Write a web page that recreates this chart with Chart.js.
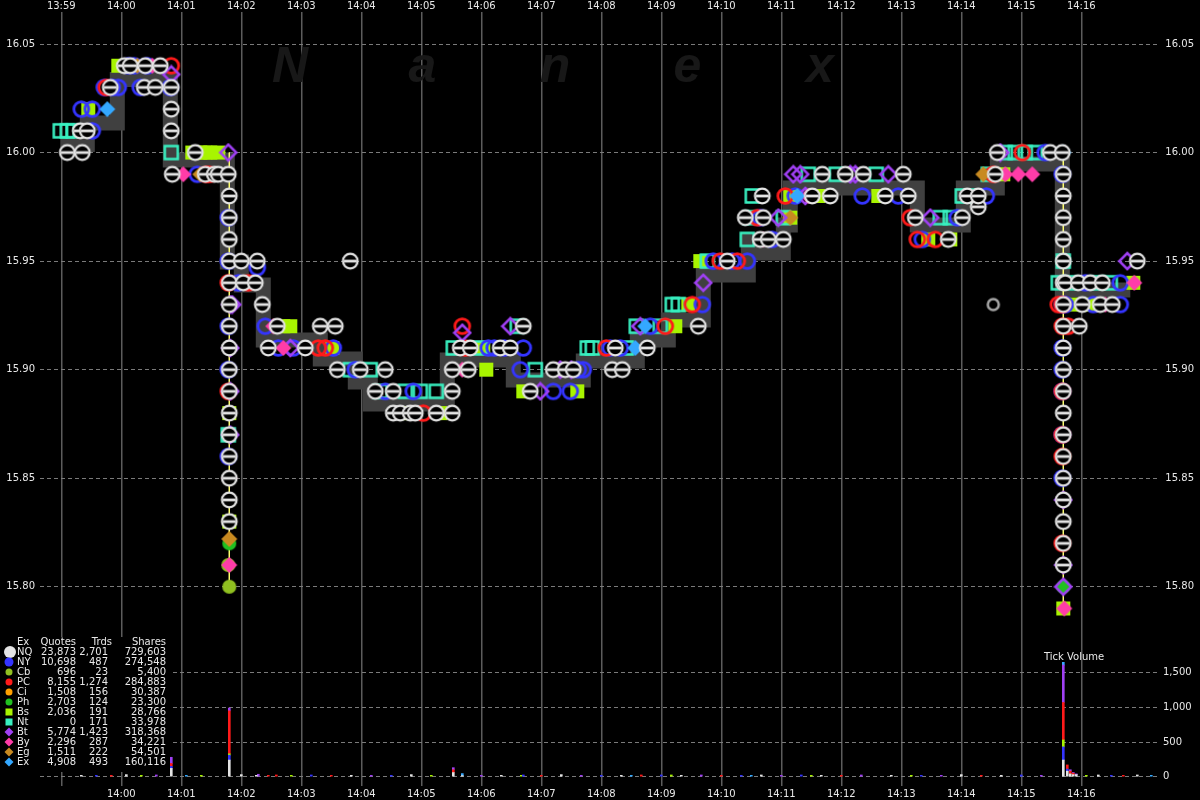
<!DOCTYPE html>
<html><head><meta charset="utf-8">
<script src="https://cdn.jsdelivr.net/npm/chart.js@4/dist/chart.umd.min.js"></script>
<style>html,body{margin:0;padding:0;background:#000;overflow:hidden}canvas{display:block}</style>
</head><body>
<canvas id="c" width="1200" height="800"></canvas>
<script>
// ---------------- DATA (time = seconds after 13:59:00, price in $) ----------------
const timeLabels = ['13:59','14:00','14:01','14:02','14:03','14:04','14:05','14:06','14:07','14:08','14:09','14:10','14:11','14:12','14:13','14:14','14:15','14:16'];
const priceTicks = [15.80, 15.85, 15.90, 15.95, 16.00, 16.05];
const volumeTicks = [0, 500, 1000, 1500];

// grey quote band (step)
const bandSec   = [-1, 26, 56, 109, 166, 180, 202, 259, 294, 309, 386, 452, 522, 576, 607, 642, 687, 702, 722, 729, 856, 902, 936, 1001, 1069];
const bandPrice = [16.0037, 16.0136, 16.0336, 15.9966, 15.9496, 15.9390, 15.9137, 15.9049, 15.8943, 15.8842, 15.9044, 15.8952, 15.9040, 15.9137, 15.9229, 15.9436, 15.9597, 15.9537, 15.9666, 15.9837, 15.9666, 15.9837, 15.9947, 15.9367, 15.9367];

// thin yellow trade-path segments at the two plunges (null price = gap)
const plungePath = [[168,16.00],[168,15.80],[585,null],[1002,16.00],[1002,15.79]];

// trades per exchange [sec, price]
const tradesNQ = [[6,16.00],[21,16.00],[19,16.01],[26,16.01],[49,16.03],[63,16.04],[69,16.04],[84,16.04],[99,16.04],[83,16.03],[94,16.03],[110,16.03],[110,16.02],[110,16.01],[134,16.00],[111,15.99],[144,15.99],[153,15.99],[157,15.99],[167,15.99],
[168,15.98],[168,15.97],[168,15.96],[168,15.95],[168,15.94],[168,15.93],[168,15.92],[168,15.91],[168,15.90],[168,15.89],[168,15.88],[168,15.87],[168,15.86],[168,15.85],[168,15.84],[168,15.83],
[180,15.95],[196,15.95],[182,15.94],[194,15.94],[201,15.93],[289,15.95],
[216,15.92],[259,15.92],[274,15.92],[207,15.91],[244,15.91],[276,15.90],[299,15.90],[324,15.90],[314,15.89],[332,15.89],[391,15.89],[332,15.88],[339,15.88],[349,15.88],[354,15.88],[375,15.88],[391,15.88],
[399,15.91],[409,15.91],[439,15.91],[449,15.91],[391,15.90],[407,15.90],[462,15.92],[492,15.90],[504,15.90],[469,15.89],
[512,15.90],[551,15.90],[561,15.90],[554,15.91],[586,15.91],[637,15.92],[666,15.95],[699,15.96],[707,15.96],[722,15.96],[684,15.97],[702,15.97],[701,15.98],[751,15.98],[769,15.98],[824,15.98],[847,15.98],[761,15.99],[784,15.99],[802,15.99],[842,15.99],
[854,15.97],[901,15.97],[887,15.96],[917,15.975],[906,15.98],[917,15.98],[934,15.99],[936,16.00],[989,16.00],[1001,16.00],
[1002,15.99],[1002,15.98],[1002,15.97],[1002,15.96],[1002,15.95],[1002,15.94],[1002,15.93],[1002,15.92],[1002,15.91],[1002,15.90],[1002,15.89],[1002,15.88],[1002,15.87],[1002,15.86],[1002,15.85],[1002,15.84],[1002,15.83],[1002,15.82],[1002,15.81],
[1004,15.94],[1017,15.94],[1029,15.94],[1041,15.94],[1021,15.93],[1039,15.93],[1051,15.93],[1018,15.92],[1076,15.95]];
const tradesNQoutlier = [[932,15.93]];
const tradesNY = [[31,16.01],[20,16.02],[31,16.02],[43,16.03],[51,16.03],[57,16.03],[67,16.04],[73,16.04],[86,16.04],[79,16.03],[109,16.03],[136,15.99],
[167,15.97],[167,15.95],[167,15.92],[167,15.90],[167,15.86],[177,15.94],[196,15.947],[204,15.92],[217,15.91],[232,15.91],[272,15.91],[294,15.90],[324,15.89],[352,15.89],
[427,15.91],[433,15.91],[443,15.91],[462,15.91],[459,15.90],[517,15.90],[492,15.89],[509,15.89],[522,15.90],[549,15.91],[559,15.91],[589,15.92],[641,15.93],
[652,15.95],[671,15.95],[686,15.95],[711,15.96],[699,15.97],[734,15.98],[801,15.98],[837,15.98],[861,15.96],[896,15.97],[925,15.98],[984,16.00],
[1001,15.99],[1001,15.93],[1001,15.91],[1001,15.90],[1001,15.89],[1001,15.87],[1001,15.85],[1004,15.93],[1024,15.94],[1032,15.93],[1059,15.94],[1059,15.93]];
const tradesPC = [[45,16.03],[110,16.04],[145,15.99],[148,15.99],[167,15.94],[167,15.89],[187,15.94],[257,15.91],[264,15.91],[362,15.88],[401,15.92],[404,15.91],
[545,15.91],[604,15.92],[631,15.93],[659,15.95],[676,15.95],[696,15.97],[724,15.98],[849,15.97],[856,15.96],[874,15.96],[932,15.99],[961,16.00],
[1001,15.93],[1001,15.92],[1001,15.89],[1001,15.87],[1001,15.86],[1001,15.82],[997,15.93],[1007,15.92]];
const tradesNt = [[-1,16.01],[6,16.01],[12,16.01],[110,16.00],[167,15.87],[289,15.90],[309,15.90],[319,15.89],[344,15.89],[359,15.89],[375,15.89],[392,15.91],[419,15.91],[456,15.92],[474,15.90],
[526,15.91],[531,15.91],[565,15.91],[575,15.92],[599,15.92],[611,15.93],[617,15.93],[646,15.95],[686,15.96],[689,15.97],[722,15.97],[691,15.98],[747,15.99],[775,15.99],[815,15.99],
[879,15.97],[889,15.97],[901,15.98],[912,15.98],[927,15.99],[944,16.00],[954,16.00],[964,16.00],[974,16.00],[1002,15.95],[997,15.94],[1009,15.94],[1036,15.94],[1049,15.94]];
const tradesBs = [[57,16.04],[27,16.02],[131,16.00],[139,16.00],[144,16.00],[149,16.00],[157,16.00],[168,15.88],[168,15.83],[222,15.92],[229,15.92],[271,15.91],[346,15.88],[379,15.88],
[422,15.91],[425,15.90],[495,15.90],[462,15.89],[516,15.89],[614,15.92],[627,15.93],[639,15.95],[729,15.97],[729,15.98],[757,15.98],[817,15.98],[867,15.96],[889,15.96],[942,15.99],
[1002,15.79],[1014,15.93],[1027,15.93],[1072,15.94]];
const tradesBt = [[110,16.036],[167,16.00],[171,15.93],[169,15.93],[169,15.91],[169,15.89],[169,15.87],[229,15.91],[401,15.917],[449,15.92],[499,15.90],[510,15.90],[479,15.89],
[579,15.92],[642,15.94],[717,15.97],[744,15.98],[732,15.99],[739,15.99],[789,15.99],[794,15.99],[827,15.99],[869,15.97],[939,16.00],[1002,15.84],[1002,15.81],[1002,15.80],[1066,15.95]];
const tradesBy = [[91,16.04],[122,15.99],[168,15.85],[168,15.81],[212,15.92],[222,15.91],[401,15.90],[702,15.96],[747,15.98],[944,15.99],[957,15.99],[971,15.99],[1003,15.79],[1044,15.93],[1073,15.94]];
const tradesEx = [[46,16.02],[179,15.94],[574,15.91],[584,15.92],[736,15.98],[1002,16.00],[1002,15.87]];
const tradesEg = [[76,16.04],[139,15.99],[168,15.83],[168,15.822],[729,15.97],[922,15.99],[1002,15.86]];
const tradesPh = [[168,15.82],[1002,15.89],[1002,15.80]];
const tradesCb = [[168,15.80],[167,15.81]];
const tradesCi = [[1001,15.86]];

// tick volume per exchange [sec, shares]
const volNQ = [[20,20],[65,30],[110,120],[168,240],[180,30],[195,20],[290,20],[350,30],[392,60],[401,15],[440,20],[500,30],[560,20],[620,20],[700,25],[760,20],[830,20],[900,30],[940,20],[1002,240],[1006,80],[1009,40],[1012,30],[1015,30],[1037,25],[1076,25]];
const volNY = [[35,20],[110,30],[168,70],[250,25],[330,20],[462,25],[540,20],[600,25],[680,20],[740,25],[860,20],[960,25],[1002,190],[1006,30],[1050,20]];
const volPC = [[50,20],[110,40],[168,620],[207,20],[215,25],[270,20],[392,40],[480,20],[580,25],[660,20],[780,20],[920,20],[1002,540],[1006,60],[1009,40],[1012,20],[1062,20]];
const volBt = [[95,25],[110,90],[168,40],[197,35],[310,20],[392,30],[420,20],[520,20],[640,25],[720,20],[800,25],[880,20],[980,20],[1002,540],[1009,20],[1012,10],[1015,10]];
const volBs = [[80,20],[140,20],[168,20],[230,20],[370,20],[460,20],[610,25],[750,20],[850,20],[1002,100],[1025,20]];
const volEx = [[125,20],[401,30],[570,20],[690,20],[1002,40],[1090,20]];

// exchange summary table
const exNames  = ['NQ','NY','Cb','PC','Ci','Ph','Bs','Nt','Bt','By','Eg','Ex'];
const exQuotes = [23873, 10698, 696, 8155, 1508, 2703, 2036, 0, 5774, 2296, 1511, 4908];
const exTrades = [2701, 487, 23, 1274, 156, 124, 191, 171, 1423, 287, 222, 493];
const exShares = [729603, 274548, 5400, 284883, 30387, 23300, 28766, 33978, 318368, 34221, 54501, 160116];

// ---------------- STYLE ----------------
const COL = {NQ:'#e4e4e4', NY:'#3434ff', Cb:'#90c020', PC:'#ff1a1a', Ci:'#ffa000', Ph:'#20c020', Bs:'#a8f400', Nt:'#38f0c0', Bt:'#a040f4', By:'#ff3ca8', Eg:'#c88a20', Ex:'#34a8ff'};
const TXT = '#e8e8e8';
const FAM = "'DejaVu Sans', sans-serif";
const FONT = {family:FAM, size:10};
const X_MIN = -21.3, X_MAX = 1096.7;
const Y_MIN = 16.05 - 742/2171, Y_MAX = 16.05 + 32/2171;
const V_PX = 104/1500;
const V_MIN = -9.3 / V_PX, V_MAX = 764.7 / V_PX;

function marker(kind, color) {
  const c = document.createElement('canvas');
  c.width = 20; c.height = 20;
  const g = c.getContext('2d'); const m = 10;
  g.strokeStyle = color; g.fillStyle = color; g.lineWidth = 2.5;
  if (kind === 'nq') {
    g.beginPath(); g.arc(m, m, 7.3, 0, Math.PI*2); g.fillStyle = '#000'; g.fill();
    g.lineWidth = 2.2; g.stroke();
    g.fillStyle = color; g.fillRect(m-6, m-1.4, 12, 2.8);
  } else if (kind === 'ring') {
    g.lineWidth = 2.8; g.beginPath(); g.arc(m, m, 7.4, 0, Math.PI*2); g.stroke();
  } else if (kind === 'smallring') {
    g.lineWidth = 2.5; g.beginPath(); g.arc(m, m, 5.5, 0, Math.PI*2); g.stroke();
  } else if (kind === 'sq') {
    g.strokeRect(m-6.5, m-6.5, 13, 13);
  } else if (kind === 'sqf') {
    g.fillRect(m-7, m-7, 14, 14);
  } else if (kind === 'dia' || kind === 'diaf') {
    g.beginPath(); g.moveTo(m, m-8); g.lineTo(m+8, m); g.lineTo(m, m+8); g.lineTo(m-8, m); g.closePath();
    if (kind === 'dia') g.stroke(); else g.fill();
  } else if (kind === 'dot') {
    g.beginPath(); g.arc(m, m, 7, 0, Math.PI*2); g.fill();
  }
  return c;
}

const pts = arr => arr.map(p => ({x: p[0], y: p[1]}));

function tradeSet(label, arr, kind, color, order) {
  return {type:'scatter', label, data: pts(arr), xAxisID:'x', yAxisID:'y', showLine:false,
    pointStyle: marker(kind, color), pointRadius: 8, pointHoverRadius: 8, order};
}
function volSet(label, arr, color) {
  return {type:'bar', label, data: pts(arr), xAxisID:'x', yAxisID:'yVol', backgroundColor: color,
    barThickness: 2, borderWidth: 0, order: 5};
}

const datasets = [
  tradeSet('NQ', tradesNQ, 'nq', COL.NQ, 0),
  tradeSet('NQo', tradesNQoutlier, 'smallring', '#a8a8a8', 0),
  tradeSet('Ex', tradesEx, 'diaf', COL.Ex, 1),
  tradeSet('By', tradesBy, 'diaf', COL.By, 1),
  tradeSet('Bt', tradesBt, 'dia', COL.Bt, 1),
  tradeSet('Eg', tradesEg, 'diaf', COL.Eg, 1),
  tradeSet('PC', tradesPC, 'ring', COL.PC, 1),
  tradeSet('NY', tradesNY, 'ring', COL.NY, 1),
  tradeSet('Nt', tradesNt, 'sq', COL.Nt, 1),
  tradeSet('Bs', tradesBs, 'sqf', COL.Bs, 1),
  tradeSet('Ph', tradesPh, 'dot', COL.Ph, 1),
  tradeSet('Cb', tradesCb, 'dot', COL.Cb, 1),
  tradeSet('Ci', tradesCi, 'dot', COL.Ci, 1),
  {type:'line', label:'path', data: pts(plungePath), xAxisID:'x', yAxisID:'y', borderColor:'#ffff70', borderWidth:1, pointRadius:0, spanGaps:false, order:15},
  {type:'line', label:'band', data: bandSec.map((s,i)=>({x:s, y:bandPrice[i]})), xAxisID:'x', yAxisID:'y',
    borderColor:'#404040', borderWidth:15, stepped:'before', pointRadius:0, borderCapStyle:'butt', borderJoinStyle:'miter', order:20},
  volSet('vNQ', volNQ, COL.NQ), volSet('vNY', volNY, COL.NY), volSet('vBs', volBs, COL.Bs),
  volSet('vPC', volPC, COL.PC), volSet('vBt', volBt, COL.Bt), volSet('vEx', volEx, COL.Ex)
];

const bgPlugin = {id:'bg', beforeDraw(ch){ const c = ch.ctx; c.save(); c.fillStyle='#000'; c.fillRect(0,0,ch.width,ch.height); c.restore(); }};
const watermark = {id:'wm', beforeDatasetsDraw(ch){
  const c = ch.ctx; c.save(); c.fillStyle = '#181818'; c.font = "italic bold 50px 'Liberation Sans', sans-serif";
  c.textAlign = 'center'; c.textBaseline = 'middle';
  const letters = ['N','a','n','e','x'];
  letters.forEach((l,i) => c.fillText(l, 290 + i*132.5, 68));
  c.restore();
}};
const table = {id:'table', afterDatasetsDraw(ch){
  const c = ch.ctx; c.save();
  c.fillStyle = '#000'; c.fillRect(0, 637, 170, 135);
  c.font = "10px " + FAM; c.fillStyle = TXT; c.textBaseline = 'middle';
  const y0 = 642, dy = 10;
  c.textAlign = 'left'; c.fillText('Ex', 17, y0);
  c.textAlign = 'right'; c.fillText('Quotes', 76, y0); c.fillText('Trds', 112, y0); c.fillText('Shares', 166, y0);
  const f = n => n.toLocaleString('en-US');
  exNames.forEach((n, i) => {
    const y = y0 + dy*(i+1);
    c.fillStyle = TXT;
    c.textAlign = 'left'; c.fillText(n, 17, y);
    c.textAlign = 'right'; c.fillText(f(exQuotes[i]), 76, y); c.fillText(f(exTrades[i]), 108, y); c.fillText(f(exShares[i]), 166, y);
    const col = COL[n]; c.fillStyle = col;
    const mx = 9, my = y;
    c.beginPath();
    if (n === 'NQ') { c.arc(10, my, 6, 0, Math.PI*2); }
    else if (n === 'NY') { c.arc(mx, my, 4.5, 0, Math.PI*2); }
    else if (n === 'Bs' || n === 'Nt') { c.rect(mx-3.5, my-3.5, 7, 7); }
    else if (['Bt','By','Eg','Ex'].includes(n)) { c.moveTo(mx, my-4.5); c.lineTo(mx+4.5, my); c.lineTo(mx, my+4.5); c.lineTo(mx-4.5, my); c.closePath(); }
    else { c.arc(mx, my, 3.5, 0, Math.PI*2); }
    c.fill();
  });
  c.fillStyle = TXT; c.textAlign = 'left'; c.fillText('Tick Volume', 1044, 657);
  c.restore();
}};

const fixW = w => s => { s.width = w; };
const fixH = h => s => { s.height = h; };
const fixW0 = s => { s.width = 0; s.paddingTop = 0; s.paddingBottom = 0; s.paddingLeft = 0; s.paddingRight = 0; };

new Chart(document.getElementById('c'), {
  data: {datasets},
  plugins: [bgPlugin, watermark, table],
  options: {
    responsive:false, animation:false, devicePixelRatio:1, events:[],
    layout:{padding:0},
    plugins:{legend:{display:false}, tooltip:{enabled:false}},
    scales:{
      x:{type:'linear', position:'bottom', min:X_MIN, max:X_MAX, stacked:true, offset:false,
        afterBuildTicks: a => { a.ticks = timeLabels.slice(1).map((l,i)=>({value:(i+1)*60})); },
        ticks:{color:TXT, font:FONT, padding:2, maxRotation:0, autoSkip:false, callback: v => timeLabels[Math.round(v/60)]},
        grid:{display:false, offset:false, drawTicks:false}, border:{display:false}, afterFit: fixH(14)},
      xTop:{type:'linear', position:'top', min:X_MIN, max:X_MAX, offset:false,
        afterBuildTicks: a => { a.ticks = timeLabels.map((l,i)=>({value:i*60})); },
        ticks:{color:TXT, font:FONT, padding:0, maxRotation:0, autoSkip:false, callback: v => timeLabels[Math.round(v/60)]},
        grid:{color:'#5c5c5c', lineWidth:1.5, drawTicks:false}, border:{display:false}, afterFit: fixH(12)},
      y:{type:'linear', position:'left', min:Y_MIN, max:Y_MAX,
        afterBuildTicks: a => { a.ticks = priceTicks.map(v=>({value:v})); },
        ticks:{color:TXT, font:FONT, padding:5, callback: v => v.toFixed(2)},
        grid:{color:'#7a7a7a', lineWidth:1, drawTicks:false}, border:{display:false, dash:[4,3]}, afterFit: fixW(40)},
      yR:{type:'linear', position:'right', min:Y_MIN, max:Y_MAX, weight:0,
        afterBuildTicks: a => { a.ticks = priceTicks.map(v=>({value:v})); },
        ticks:{color:TXT, font:FONT, mirror:true, crossAlign:'near', padding:36, callback: v => v.toFixed(2)},
        grid:{display:false, drawTicks:false}, border:{display:false}, afterFit: fixW0},
      yVol:{type:'linear', position:'right', min:V_MIN, max:V_MAX, stacked:true, weight:1,
        afterBuildTicks: a => { a.ticks = volumeTicks.map(v=>({value:v})); },
        ticks:{color:TXT, font:FONT, padding:5, callback: v => v.toLocaleString('en-US')},
        grid:{color:'#7a7a7a', lineWidth:1, drawTicks:false}, border:{display:false, dash:[4,3]}, afterFit: fixW(42)}
    }
  }
});
</script></body></html>
